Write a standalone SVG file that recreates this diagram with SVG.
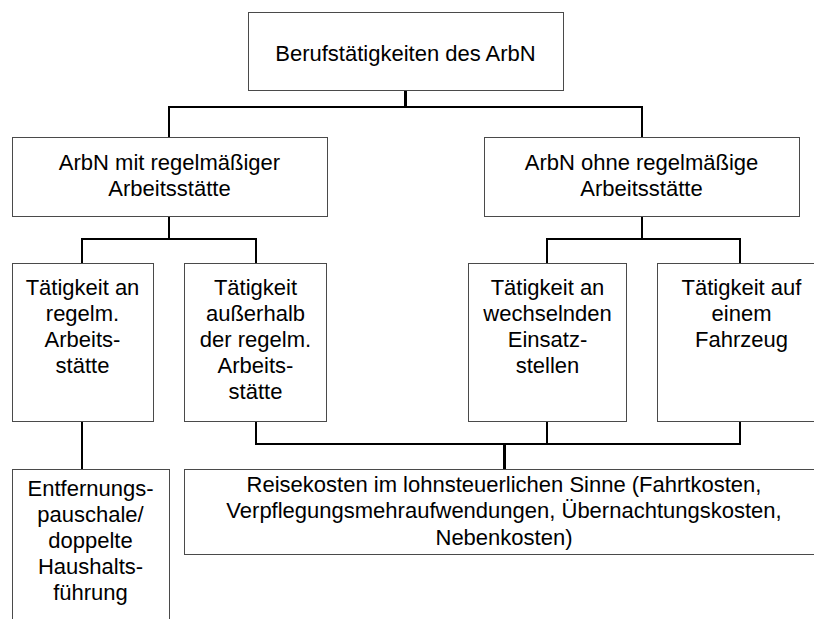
<svg xmlns="http://www.w3.org/2000/svg" width="814" height="619" viewBox="0 0 814 619">
  <style>
    .box { fill: #ffffff; stroke: #4a4a4a; stroke-width: 1; }
    .lbl { font-family: "Liberation Sans", Arial, sans-serif; font-size: 22px; fill: #000000; text-anchor: middle; }
    .wire { fill: none; stroke: #000000; stroke-width: 2; }
    .wire.thick { stroke-width: 3; }
  </style>
  <rect width="814" height="619" fill="#ffffff"/>

  <!-- connectors -->
  <g id="connectors">
    <path class="wire thick" d="M405.5 90 V107"/>
    <path class="wire" d="M169 107 H642 M169 106 V137 M642 106 V137"/>
    <path class="wire" d="M169 217 V239 M82 239 H256 M82 238 V263 M256 238 V263"/>
    <path class="wire" d="M642 217 V239 M547 239 H740 M547 238 V263 M740 238 V263"/>
    <path class="wire" d="M82 421 V469"/>
    <path class="wire" d="M256 421 V444 H740 V421 M547 421 V444"/>
    <path class="wire thick" d="M504.5 444 V469"/>
  </g>

  <g id="root">
    <rect class="box" x="248.5" y="12.5" width="315" height="78"/>
    <text class="lbl" x="405.5" y="61">Berufstätigkeiten des ArbN</text>
  </g>

  <g id="mit-regelm">
    <rect class="box" x="12.5" y="137.5" width="315" height="79"/>
    <text class="lbl" x="169.5" y="170">ArbN mit regelmäßiger</text>
    <text class="lbl" x="169.5" y="196">Arbeitsstätte</text>
  </g>

  <g id="ohne-regelm">
    <rect class="box" x="484.5" y="137.5" width="315" height="79"/>
    <text class="lbl" x="641.5" y="170">ArbN ohne regelmäßige</text>
    <text class="lbl" x="641.5" y="196">Arbeitsstätte</text>
  </g>

  <g id="an-regelm">
    <rect class="box" x="12.5" y="263.5" width="141" height="158"/>
    <text class="lbl" x="82.5" y="295">Tätigkeit an</text>
    <text class="lbl" x="82.5" y="321">regelm.</text>
    <text class="lbl" x="82.5" y="347">Arbeits-</text>
    <text class="lbl" x="82.5" y="373">stätte</text>
  </g>

  <g id="ausserhalb">
    <rect class="box" x="184.5" y="263.5" width="142" height="158"/>
    <text class="lbl" x="255.5" y="295">Tätigkeit</text>
    <text class="lbl" x="255.5" y="321">außerhalb</text>
    <text class="lbl" x="255.5" y="347">der regelm.</text>
    <text class="lbl" x="255.5" y="373">Arbeits-</text>
    <text class="lbl" x="255.5" y="399">stätte</text>
  </g>

  <g id="einsatzstellen">
    <rect class="box" x="468.5" y="263.5" width="158" height="158"/>
    <text class="lbl" x="547.5" y="295">Tätigkeit an</text>
    <text class="lbl" x="547.5" y="321">wechselnden</text>
    <text class="lbl" x="547.5" y="347">Einsatz-</text>
    <text class="lbl" x="547.5" y="373">stellen</text>
  </g>

  <g id="fahrzeug">
    <rect class="box" x="657.5" y="263.5" width="170" height="158"/>
    <text class="lbl" x="741.5" y="295">Tätigkeit auf</text>
    <text class="lbl" x="741.5" y="321">einem</text>
    <text class="lbl" x="741.5" y="347">Fahrzeug</text>
  </g>

  <g id="entfernung">
    <rect class="box" x="12.5" y="469.5" width="157" height="170"/>
    <text class="lbl" x="90.5" y="496">Entfernungs-</text>
    <text class="lbl" x="90.5" y="522">pauschale/</text>
    <text class="lbl" x="90.5" y="548">doppelte</text>
    <text class="lbl" x="90.5" y="574">Haushalts-</text>
    <text class="lbl" x="90.5" y="600">führung</text>
  </g>

  <g id="reisekosten">
    <rect class="box" x="184.5" y="469.5" width="640" height="85"/>
    <text class="lbl" x="504" y="492">Reisekosten im lohnsteuerlichen Sinne (Fahrtkosten,</text>
    <text class="lbl" x="504" y="518">Verpflegungsmehraufwendungen, Übernachtungskosten,</text>
    <text class="lbl" x="504" y="545">Nebenkosten)</text>
  </g>
</svg>
